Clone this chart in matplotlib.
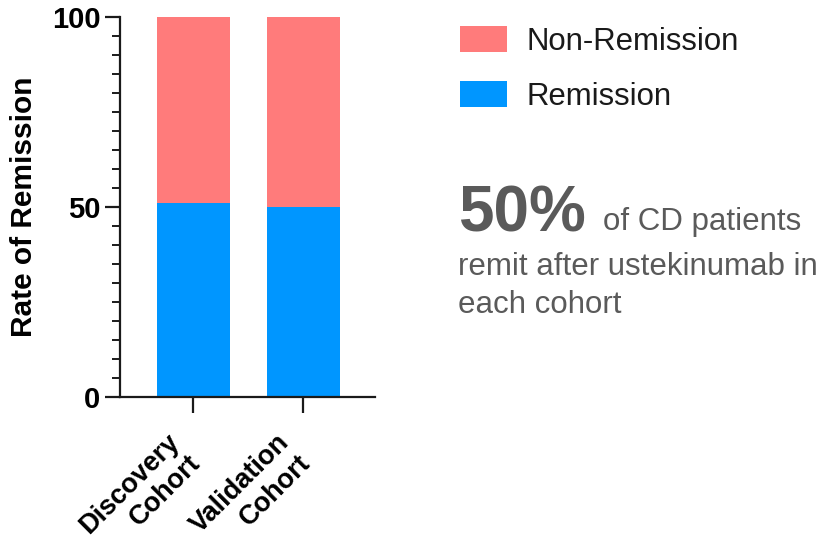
import matplotlib.pyplot as plt
from matplotlib.ticker import MultipleLocator
from matplotlib.transforms import ScaledTranslation

cohorts = ["Discovery\nCohort", "Validation\nCohort"]
remission = [51, 50]
non_remission = [49, 50]

pink = "#FF7B7B"
blue = "#0096FF"
grey = "#5a5a5a"

plt.rcParams['font.family'] = ['Liberation Sans', 'DejaVu Sans']

fig = plt.figure(figsize=(8.28, 5.42), dpi=100)
ax = fig.add_axes([120 / 828, 1 - 397 / 542, 255 / 828, 380 / 542])

x = list(range(len(cohorts)))
ax.bar(x, remission, width=0.66, color=blue, label="Remission")
ax.bar(x, non_remission, width=0.66, bottom=remission, color=pink, label="Non-Remission")

ax.set_xlim(-0.664, 1.65)
ax.set_ylim(0, 100)
ax.set_yticks([0, 50, 100])
ax.yaxis.set_minor_locator(MultipleLocator(5))
ax.set_xticks(x)
ax.set_xticklabels([])

# slanted category names, set down and to the left of each tick
shift = ScaledTranslation(-0.27, -0.32, fig.dpi_scale_trans)
for xi, name in zip(x, cohorts):
    ax.text(xi, 0, name, transform=ax.transData + shift,
            rotation=45, ha="right", va="top", rotation_mode="anchor",
            multialignment="right", fontsize=19.5, fontweight="bold",
            clip_on=False)

for lab in ax.get_yticklabels():
    lab.set_fontsize(21)
    lab.set_fontweight("bold")

for side in ["top", "right"]:
    ax.spines[side].set_visible(False)
for side in ["left", "bottom"]:
    ax.spines[side].set_linewidth(1.6)
    ax.spines[side].set_color("#1a1a1a")

ax.tick_params(axis="y", which="major", length=11, width=1.6, pad=3, color="#1a1a1a")
ax.tick_params(axis="y", which="minor", length=5.5, width=1.4, color="#1a1a1a")
ax.tick_params(axis="x", which="major", length=11.5, width=1.6, color="#1a1a1a")
ax.set_ylabel("Rate of Remission", fontsize=21.5, fontweight="bold", labelpad=10)

# legend: non-remission listed first
handles, labels = ax.get_legend_handles_labels()
fig.legend(handles[::-1], labels[::-1], loc="upper left",
           bbox_to_anchor=(460 / 828, 1 - 26 / 542), frameon=False,
           borderpad=0, borderaxespad=0,
           fontsize=22.4, handlelength=1.51, handleheight=0.92,
           handletextpad=0.64, labelspacing=0.78, labelcolor="#1a1a1a")

# summary text
fig.text(458 / 828, 1 - 232 / 542, "50%", fontsize=46, fontweight="bold",
         color=grey, va="baseline", ha="left")
fig.text(603 / 828, 1 - 230 / 542, "of CD patients", fontsize=22.5,
         color=grey, va="baseline", ha="left")
fig.text(458 / 828, 1 - 275 / 542, "remit after ustekinumab in", fontsize=22.5,
         color=grey, va="baseline", ha="left")
fig.text(458 / 828, 1 - 313 / 542, "each cohort", fontsize=22.5,
         color=grey, va="baseline", ha="left")

fig.savefig("out.png", dpi=100)
